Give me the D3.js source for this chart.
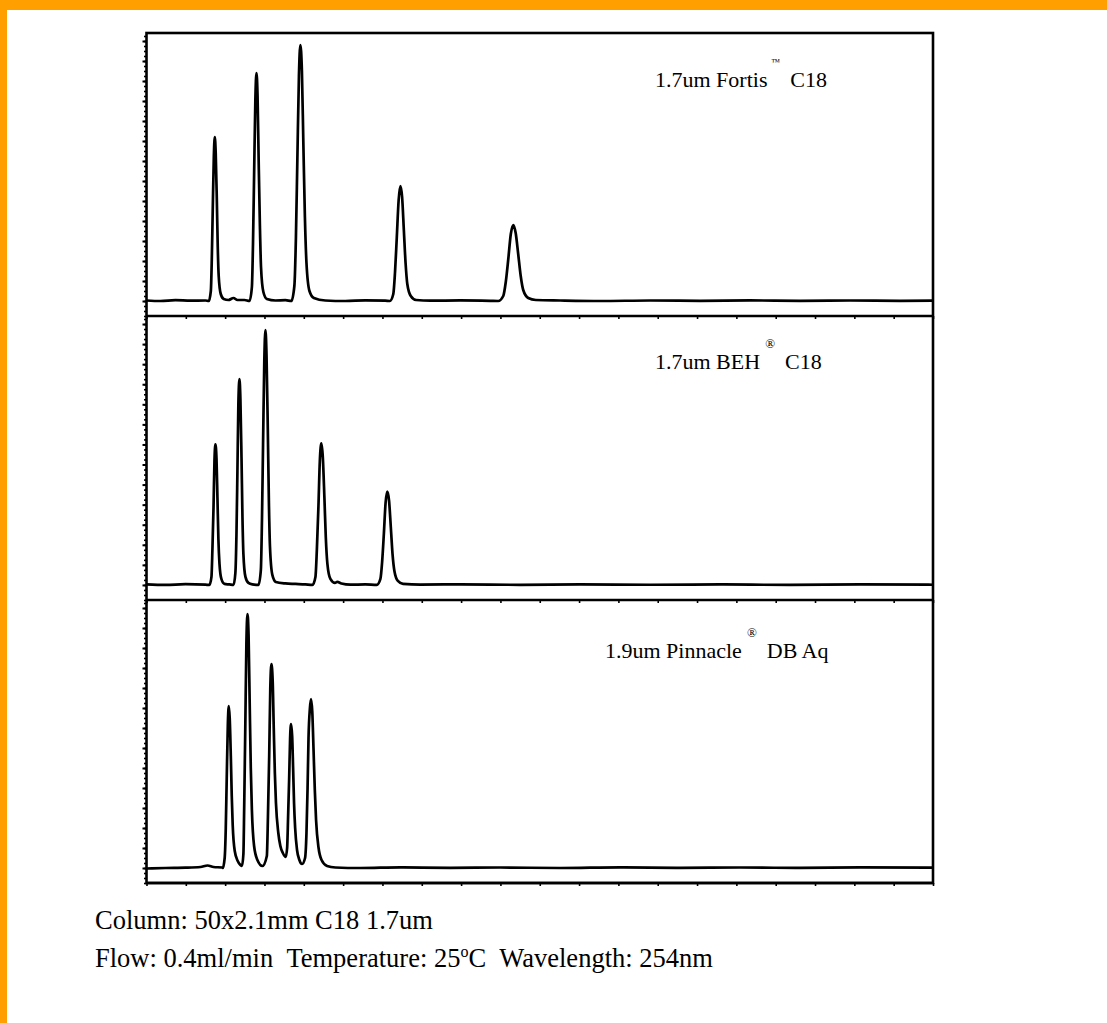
<!DOCTYPE html>
<html>
<head>
<meta charset="utf-8">
<script src="https://cdn.jsdelivr.net/npm/d3@7/dist/d3.min.js"></script>
<style>
  html, body { margin: 0; padding: 0; background: #fff; }
  svg { display: block; }
</style>
</head>
<body>
<div id="chart"></div>
<script>
// ---------------- DATA ----------------
// time axis (min) tick values
const timeTicks = d3.range(0, 5.0001, 0.25);
// signal axis tick values (minor every 5, major every 20)
const signalMinorTicks = d3.range(-15, 268, 5);
const signalMajorTicks = d3.range(0, 268, 20);

// Chromatogram traces: [time (min), signal]
const fortisTrace = [
  [0.000,0.5],[0.089,0],[0.184,0.8],[0.280,0.3],[0.375,0.5],
  [0.396,0],[0.409,10],[0.415,41],[0.421,90],[0.428,144],[0.434,164],[0.440,148],[0.447,102],[0.453,54],[0.459,25],[0.472,7],[0.491,2],
  [0.521,1],[0.553,3],[0.578,1],[0.623,1],
  [0.655,0],[0.670,14],[0.677,57],[0.684,125],[0.692,201],[0.699,228],[0.706,205],[0.713,141],[0.721,75],[0.728,34],[0.743,9],[0.765,2],
  [0.820,0.5],[0.883,0.8],
  [0.921,0],[0.940,15],[0.950,64],[0.959,141],[0.969,225],[0.978,256],[0.988,230],[0.997,159],[1.007,84],[1.017,38],[1.036,10],[1.064,3],
  [1.137,0.5],[1.264,0],[1.391,0.6],[1.518,0.3],
  [1.547,0],[1.569,7],[1.580,29],[1.591,63],[1.603,101],[1.614,115],[1.625,104],[1.636,71],[1.647,38],[1.658,17],[1.680,5],[1.714,1],
  [1.804,0.3],[1.995,0.6],[2.185,0.2],
  [2.236,0],[2.268,5],[2.284,19],[2.300,42],[2.316,67],[2.332,76],[2.347,68],[2.363,47],[2.379,25],[2.395,11],[2.427,3],[2.475,1],
  [2.630,0.5],[2.884,0],[3.202,0.5],[3.520,0.2],[3.837,0.6],[4.155,0.2],[4.473,0.5],[4.790,0.1],[5.000,0.4]
];

const behTrace = [
  [0.000,0.5],[0.121,0],[0.248,0.8],[0.375,0.3],
  [0.400,0],[0.413,8],[0.419,35],[0.426,77],[0.432,123],[0.438,140],[0.445,126],[0.451,87],[0.457,46],[0.464,21],[0.476,6],[0.496,1],
  [0.527,0.5],
  [0.553,0],[0.565,12],[0.572,51],[0.578,113],[0.584,180],[0.591,205],[0.597,185],[0.604,127],[0.610,68],[0.616,31],[0.629,8],[0.648,2],
  [0.673,0.5],
  [0.712,0],[0.727,15],[0.734,64],[0.741,140],[0.749,224],[0.756,254],[0.763,229],[0.771,157],[0.778,84],[0.785,38],[0.800,10],[0.822,3],
  [0.883,1.5],[0.947,1],[1.010,0.5],
  [1.055,0],[1.074,8],[1.083,35],[1.093,78],[1.102,124],[1.112,141],[1.121,127],[1.131,87],[1.140,47],[1.150,21],[1.169,6],[1.198,2],
  [1.213,3],[1.239,1.5],[1.296,0.3],[1.391,0.5],
  [1.464,0],[1.487,6],[1.498,23],[1.509,51],[1.520,82],[1.531,93],[1.542,84],[1.553,58],[1.564,31],[1.576,14],[1.598,4],[1.631,1],
  [1.741,0.3],[1.995,0.6],[2.376,0.1],[2.757,0.5],[3.202,0.2],[3.647,0.5],[4.091,0],[4.536,0.5],[5.000,0.2]
];

const pinnacleTrace = [
  [0.000,-0.5],[0.121,0],[0.248,0.3],[0.343,1],[0.388,2.5],[0.426,1],[0.483,0.5],
  [0.485,0],[0.497,10],[0.504,40],[0.510,89],[0.517,143],[0.523,162],[0.529,150],[0.536,112],[0.542,72],[0.548,43],[0.561,17],[0.580,7],[0.597,3],
  [0.607,2],
  [0.616,14],[0.621,60],[0.628,140],[0.635,224],[0.642,254],[0.649,232],[0.656,165],[0.663,100],[0.670,58],[0.684,22],[0.705,8],
  [0.737,2],
  [0.765,12],[0.772,51],[0.780,112],[0.787,180],[0.794,204],[0.802,188],[0.809,140],[0.816,95],[0.823,65],[0.838,35],[0.851,22],[0.867,15],
  [0.885,11],
  [0.894,20],[0.900,50],[0.907,90],[0.913,130],[0.919,144],[0.926,132],[0.932,100],[0.938,65],[0.945,40],[0.957,18],[0.972,8],
  [0.989,4],
  [1.008,10],[1.017,35],[1.024,80],[1.030,130],[1.039,160],[1.046,169],[1.054,156],[1.062,118],[1.070,78],[1.078,48],[1.094,20],[1.113,8],[1.148,2],
  [1.201,0.5],[1.360,0],[1.614,0.6],[1.931,0.2],[2.249,0.5],[2.630,0],[3.011,0.6],[3.393,0.2],[3.774,0.5],[4.155,0.1],[4.536,0.6],[5.000,0.3]
];

// Panel labels
const labelMain = ["1.7um Fortis", "1.7um BEH", "1.9um Pinnacle"];
const labelMark = ["\u2122", "\u00AE", "\u00AE"];
const labelSuffix = ["C18", "C18", "DB Aq"];

const footLine1 = "Column: 50x2.1mm C18 1.7um";
const footLine2a = "Flow: 0.4ml/min\u00A0\u00A0Temperature: 25";
const footLine2sup = "o";
const footLine2b = "C\u00A0\u00A0Wavelength: 254nm";

// ---------------- LAYOUT ----------------
const W = 1107, H = 1023;
const left = 146.5, right = 933;
const panelEdges = [33, 316, 600, 883];
const labelPos = [[655, 87], [655, 369], [605, 658]];

const svg = d3.select("#chart").append("svg").attr("width", W).attr("height", H);

// orange border (top and left)
svg.append("rect").attr("x", 0).attr("y", 0).attr("width", W).attr("height", 10).attr("fill", "#FF9F00");
svg.append("rect").attr("x", 0).attr("y", 0).attr("width", 7).attr("height", H).attr("fill", "#FF9F00");

const x = d3.scaleLinear().domain([0, 5]).range([left, right]);
const traces = [fortisTrace, behTrace, pinnacleTrace];

traces.forEach((trace, i) => {
  const top = panelEdges[i], bottom = panelEdges[i + 1];
  const y = d3.scaleLinear().domain([-15, 268]).range([bottom, top]);
  const g = svg.append("g");

  // left axis minor ticks
  const minorAxis = d3.axisLeft(y).tickValues(signalMinorTicks).tickSize(2.5).tickFormat("");
  const gm = g.append("g").attr("transform", `translate(${left},0)`).call(minorAxis);
  gm.select(".domain").remove();
  gm.selectAll("line").attr("stroke", "#000").attr("stroke-width", 1.6);

  const majorAxis = d3.axisLeft(y).tickValues(signalMajorTicks).tickSize(4).tickFormat("");
  const gM = g.append("g").attr("transform", `translate(${left},0)`).call(majorAxis);
  gM.select(".domain").remove();
  gM.selectAll("line").attr("stroke", "#000").attr("stroke-width", 2);

  // bottom time ticks
  const xAxis = d3.axisBottom(x).tickValues(timeTicks).tickSize(3).tickFormat("");
  const gx = g.append("g").attr("transform", `translate(0,${bottom})`).call(xAxis);
  gx.select(".domain").remove();
  gx.selectAll("line").attr("stroke", "#000").attr("stroke-width", 1.6);

  // trace
  const line = d3.line().x(d => x(d[0])).y(d => y(d[1])).curve(d3.curveMonotoneX);
  g.append("path").datum(trace).attr("d", line)
    .attr("fill", "none").attr("stroke", "#000").attr("stroke-width", 2.7)
    .attr("stroke-linejoin", "round");

  // separator / bottom line
  g.append("line").attr("x1", left).attr("x2", right).attr("y1", bottom).attr("y2", bottom)
    .attr("stroke", "#000").attr("stroke-width", 2.6);

  // label
  const t = g.append("text").attr("x", labelPos[i][0]).attr("y", labelPos[i][1])
    .attr("font-family", "'Liberation Serif', 'Times New Roman', serif")
    .attr("font-size", 22).attr("fill", "#000");
  t.append("tspan").text(labelMain[i]);
  const isTm = labelMark[i] === "\u2122";
  t.append("tspan").text(labelMark[i]).attr("font-size", isTm ? 9 : 13)
    .attr("dx", isTm ? 4 : 5).attr("dy", isTm ? -22 : -21);
  t.append("tspan").text(labelSuffix[i]).attr("dx", 10).attr("dy", isTm ? 22 : 21);
});

// outer frame
svg.append("rect").attr("x", left).attr("y", panelEdges[0])
  .attr("width", right - left).attr("height", panelEdges[3] - panelEdges[0])
  .attr("fill", "none").attr("stroke", "#000").attr("stroke-width", 2.6);

// footer text
const ft = svg.append("g").attr("font-family", "'Liberation Serif', 'Times New Roman', serif")
  .attr("font-size", 26.5).attr("fill", "#000");
ft.append("text").attr("x", 95).attr("y", 929).text(footLine1);
const l2 = ft.append("text").attr("x", 95).attr("y", 967);
l2.append("tspan").text(footLine2a);
l2.append("tspan").text(footLine2sup).attr("font-size", 16).attr("dy", -10);
l2.append("tspan").text(footLine2b).attr("dy", 10);
</script>
</body>
</html>
